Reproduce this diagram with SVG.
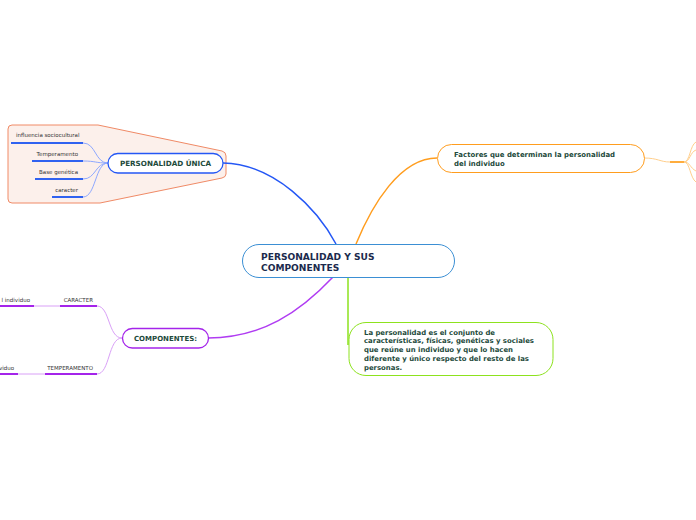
<svg xmlns="http://www.w3.org/2000/svg" width="696" height="520" viewBox="0 0 696 520">
<style>
.t{font-family:"DejaVu Sans",Verdana,sans-serif;font-weight:bold;fill:#1d4a3b}
.s{font-family:"DejaVu Sans",Verdana,sans-serif;font-size:5.5px;fill:#333}
.c{fill:none}
</style>
<rect width="696" height="520" fill="#fff"/>
<g id="boundary">
<path d="M12,125 L98,125 L222,151 Q226,152 226,156 L226,174 Q226,177 222,178 L100,203 L12,203 Q8,203 8,199 L8,129 Q8,125 12,125 Z" fill="#fcf0eb" stroke="#f08a66" stroke-width="1"/>
</g>
<g id="connectors" class="c">
<path d="M336,244 C318,210 275,164 223,163" stroke="#2457f5" stroke-width="1.5"/>
<path d="M356,244 C372,205 400,158 437,158" stroke="#ff9d1e" stroke-width="1.5"/>
<path d="M333,277 C300,312 262,338 208,338" stroke="#b03cf2" stroke-width="1.5"/>
<path d="M348,277 L348,345" stroke="#8de21e" stroke-width="1.5"/>
<g stroke="#8ea8ff" stroke-width="1">
<path d="M108,163 C95,163 96,143 83,143"/>
<path d="M108,163 C95,163 96,161 83,161"/>
<path d="M108,163 C95,163 96,179 83,179"/>
<path d="M108,163 C95,163 96,197 83,197"/>
</g>
<g stroke="#3062f0" stroke-width="2">
<path d="M11,143 H83"/><path d="M32,161 H83"/><path d="M35,179 H83"/><path d="M52,197 H83"/>
</g>
<g stroke="#d9a0f7" stroke-width="1">
<path d="M122,338 C108,338 110,306 97,306"/>
<path d="M122,338 C108,338 110,374 97,374"/>
<path d="M34,306 H60"/><path d="M18,374 H45"/>
</g>
<g stroke="#a424ea" stroke-width="2">
<path d="M60,306 H97"/><path d="M0,306 H34"/><path d="M45,374 H97"/><path d="M0,374 H18"/>
</g>
<g stroke="#ffcf8c" stroke-width="1">
<path d="M644,158 C658,158 660,162 670,162"/>
<path d="M684,162 C690,162 690,145 696,142"/>
<path d="M684,162 C690,162 690,152 696,150"/>
<path d="M684,162 C690,162 690,168 696,171"/>
<path d="M684,162 C690,162 690,178 696,182"/>
</g>
<path d="M670,162 H684" stroke="#ffad3d" stroke-width="2"/>
</g>
<g id="central">
<rect x="242.5" y="244.5" width="212" height="33" rx="16.5" fill="#fff" stroke="#3b8fd4" stroke-width="1"/>
<text class="t" x="261" y="259.5" font-size="9.1" style="fill:#1b2b4d">PERSONALIDAD Y SUS</text>
<text class="t" x="261" y="270.5" font-size="9.1" style="fill:#1b2b4d">COMPONENTES</text>
</g>
<g id="unica">
<rect x="108" y="153.5" width="115" height="19.5" rx="9.75" fill="#fff" stroke="#2457f5" stroke-width="1.3"/>
<text class="t" x="165.5" y="166.2" font-size="7.2" text-anchor="middle">PERSONALIDAD ÚNICA</text>
</g>
<g id="unica-items">
<text class="s" x="16" y="137.3">influencia sociocultural</text>
<text class="s" x="78" y="155.7" text-anchor="end">Temperamento</text>
<text class="s" x="78" y="173.7" text-anchor="end">Base genética</text>
<text class="s" x="78" y="191.7" text-anchor="end">caracter</text>
</g>
<g id="factores">
<rect x="437.5" y="144.5" width="207" height="28" rx="14" fill="#fff" stroke="#ff9d1e" stroke-width="1"/>
<text class="t" x="454" y="157" font-size="6.95">Factores que determinan la personalidad</text>
<text class="t" x="454" y="166" font-size="6.95">del individuo</text>
</g>
<g id="definicion">
<rect x="349" y="322.5" width="204" height="53" rx="17" fill="#fff" stroke="#8de21e" stroke-width="1"/>
<text class="t" x="364" y="334.5" font-size="6.9">La personalidad es el conjunto de</text>
<text class="t" x="364" y="343.3" font-size="6.9">características, físicas, genéticas y sociales</text>
<text class="t" x="364" y="352.1" font-size="6.9">que reúne un individuo y que lo hacen</text>
<text class="t" x="364" y="360.9" font-size="6.9">diferente y único respecto del resto de las</text>
<text class="t" x="364" y="369.7" font-size="6.9">personas.</text>
</g>
<g id="componentes">
<rect x="122.5" y="328.5" width="86" height="19.5" rx="9.75" fill="#fff" stroke="#a424ea" stroke-width="1.3"/>
<text class="t" x="165.5" y="341" font-size="7" text-anchor="middle">COMPONENTES:</text>
</g>
<g id="componentes-items">
<text class="s" x="93" y="301.5" text-anchor="end">CARACTER</text>
<text class="s" x="30" y="301.5" text-anchor="end">l individuo</text>
<text class="s" x="93" y="370" text-anchor="end">TEMPERAMENTO</text>
<text class="s" x="14" y="370" text-anchor="end">viduo</text>
</g>
</svg>
